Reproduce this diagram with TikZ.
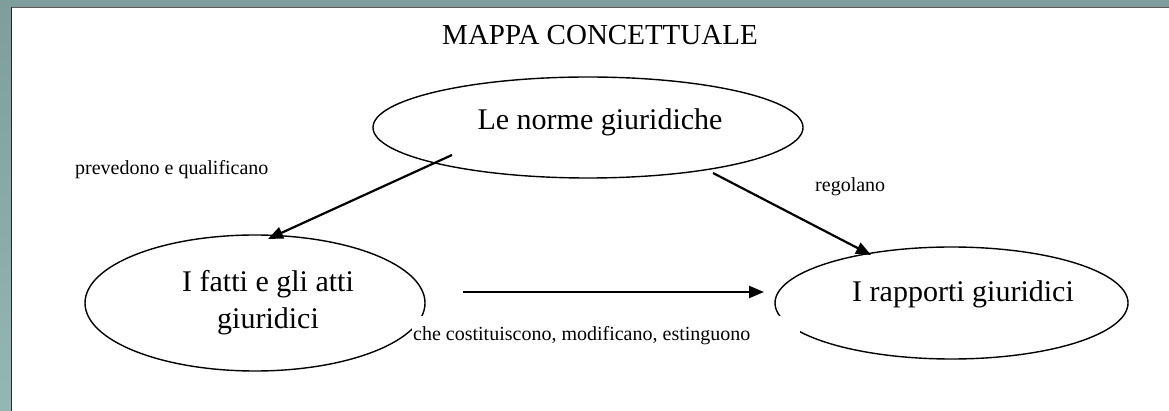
\documentclass[tikz,border=0pt]{standalone}
\usepackage{fontspec}
\setmainfont{Liberation Serif}
\usetikzlibrary{shapes.geometric,arrows.meta}
\definecolor{frameteal}{HTML}{7F9D9B}
\definecolor{frametealb}{HTML}{93B8B4}
\definecolor{framedark}{HTML}{1E2B2A}
\definecolor{framegray}{HTML}{5A5A5A}
\tikzset{
  concept/.style={draw=black, line width=1.4pt, ellipse, inner sep=0pt},
  bigtext/.style={font=\fontsize{30}{36}\selectfont, align=center, inner sep=0pt},
  smalltext/.style={font=\fontsize{20}{24}\selectfont, inner sep=0pt},
  link/.style={line width=2.2pt, -{Triangle[length=15pt,width=12pt]}}
}
\begin{document}
\begin{tikzpicture}[x=1pt,y=-1pt]
\useasboundingbox (0,0) rectangle (1169,411);
% frame
\shade[top color=frameteal, bottom color=frametealb] (0,0) rectangle (1169,411);
\fill[frameteal] (0,0) rectangle (1169,8);
\fill[white] (12,8) rectangle (1169,411);
\draw[framegray, line width=1.5pt] (11,7.5) -- (1169,7.5);
\draw[framedark, line width=1.2pt] (11.5,7) -- (11.5,411);
% title
\node[font=\fontsize{29}{34}\selectfont, anchor=base, inner sep=0pt] (title) at (600,45) {MAPPA CONCETTUALE};
% ellipses
\node[concept, minimum width=430pt, minimum height=101pt] (norme) at (588,127.5) {};
\node[concept, minimum width=340pt, minimum height=136pt] (fatti) at (255,303) {};
\node[concept, minimum width=353pt, minimum height=112pt] (rapporti) at (951.5,303) {};
% texts in ellipses
\node[bigtext, anchor=base] (tnorme) at (600,130) {Le norme giuridiche};
\node[bigtext, anchor=base] (tfatti1) at (268,292) {I fatti e gli atti};
\node[bigtext, anchor=base] (tfatti2) at (268,328) {giuridici};
\node[bigtext, anchor=base] (trapporti) at (963,302) {I rapporti giuridici};
% label backgrounds / labels
\fill[white] (412,316) rectangle (800,350);
\node[smalltext, anchor=base west] (lche) at (413,340) {che costituiscono, modificano, estinguono};
\node[smalltext, anchor=base west] (lprev) at (75,175) {prevedono e qualificano};
\node[smalltext, anchor=base west] (lreg) at (815,192) {regolano};
% connectors
\coordinate (a1s) at (452,155);
\coordinate (a1e) at (268,239);
\coordinate (a2s) at (713,173);
\coordinate (a2e) at (871,255);
\coordinate (a3s) at (463,292);
\coordinate (a3e) at (764,292);
\draw[link] (a1s) -- (a1e);
\draw[link] (a2s) -- (a2e);
\draw[link] (a3s) -- (a3e);
\end{tikzpicture}
\end{document}
